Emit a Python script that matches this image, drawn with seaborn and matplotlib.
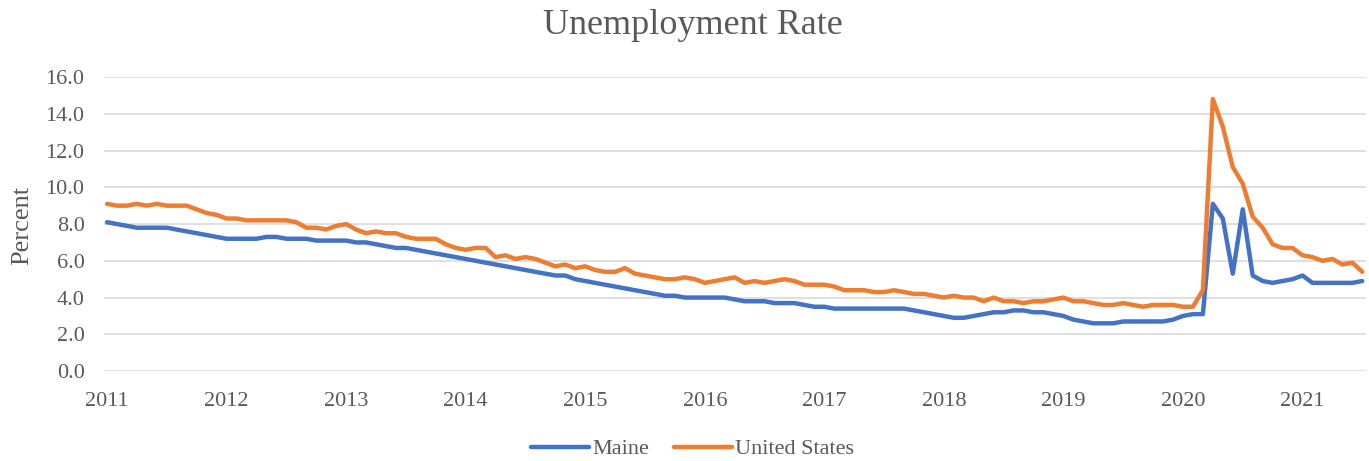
import matplotlib
matplotlib.use("Agg")
import matplotlib.pyplot as plt
import seaborn as sns
import numpy as np
import pandas as pd

# monthly rates, Jan 2011 .. Jul 2021
maine = [8.1, 8.0, 7.9, 7.8, 7.8, 7.8, 7.8, 7.7, 7.6, 7.5, 7.4, 7.3,
         7.2, 7.2, 7.2, 7.2, 7.3, 7.3, 7.2, 7.2, 7.2, 7.1, 7.1, 7.1,
         7.1, 7.0, 7.0, 6.9, 6.8, 6.7, 6.7, 6.6, 6.5, 6.4, 6.3, 6.2,
         6.1, 6.0, 5.9, 5.8, 5.7, 5.6, 5.5, 5.4, 5.3, 5.2, 5.2, 5.0,
         4.9, 4.8, 4.7, 4.6, 4.5, 4.4, 4.3, 4.2, 4.1, 4.1, 4.0, 4.0,
         4.0, 4.0, 4.0, 3.9, 3.8, 3.8, 3.8, 3.7, 3.7, 3.7, 3.6, 3.5,
         3.5, 3.4, 3.4, 3.4, 3.4, 3.4, 3.4, 3.4, 3.4, 3.3, 3.2, 3.1,
         3.0, 2.9, 2.9, 3.0, 3.1, 3.2, 3.2, 3.3, 3.3, 3.2, 3.2, 3.1,
         3.0, 2.8, 2.7, 2.6, 2.6, 2.6, 2.7, 2.7, 2.7, 2.7, 2.7, 2.8,
         3.0, 3.1, 3.1, 9.1, 8.3, 5.3, 8.8, 5.2, 4.9, 4.8, 4.9, 5.0,
         5.2, 4.8, 4.8, 4.8, 4.8, 4.8, 4.9]

us = [9.1, 9.0, 9.0, 9.1, 9.0, 9.1, 9.0, 9.0, 9.0, 8.8, 8.6, 8.5,
      8.3, 8.3, 8.2, 8.2, 8.2, 8.2, 8.2, 8.1, 7.8, 7.8, 7.7, 7.9,
      8.0, 7.7, 7.5, 7.6, 7.5, 7.5, 7.3, 7.2, 7.2, 7.2, 6.9, 6.7,
      6.6, 6.7, 6.7, 6.2, 6.3, 6.1, 6.2, 6.1, 5.9, 5.7, 5.8, 5.6,
      5.7, 5.5, 5.4, 5.4, 5.6, 5.3, 5.2, 5.1, 5.0, 5.0, 5.1, 5.0,
      4.8, 4.9, 5.0, 5.1, 4.8, 4.9, 4.8, 4.9, 5.0, 4.9, 4.7, 4.7,
      4.7, 4.6, 4.4, 4.4, 4.4, 4.3, 4.3, 4.4, 4.3, 4.2, 4.2, 4.1,
      4.0, 4.1, 4.0, 4.0, 3.8, 4.0, 3.8, 3.8, 3.7, 3.8, 3.8, 3.9,
      4.0, 3.8, 3.8, 3.7, 3.6, 3.6, 3.7, 3.6, 3.5, 3.6, 3.6, 3.6,
      3.5, 3.5, 4.4, 14.8, 13.3, 11.1, 10.2, 8.4, 7.8, 6.9, 6.7, 6.7,
      6.3, 6.2, 6.0, 6.1, 5.8, 5.9, 5.4]

years = [str(y) for y in range(2011, 2022)]
series_names = ["Maine", "United States"]

months = np.arange(len(maine))
df = pd.DataFrame({
    "month": np.concatenate([months, months]),
    "rate": maine + us,
    "series": [series_names[0]] * len(maine) + [series_names[1]] * len(us),
})

sns.set_style("white")
plt.rcParams['font.family'] = ['Liberation Serif', 'DejaVu Serif']

fig = plt.figure(figsize=(13.69, 4.61), dpi=100)
ax = fig.add_axes([0.076, 0.195, 0.922, 0.638])

sns.lineplot(data=df, x="month", y="rate", hue="series",
             palette=["#4472C4", "#ED7D31"], linewidth=3.2, ax=ax,
             legend=False)

ax.set_xlim(-0.3, 126.4)
ax.set_ylim(0, 16)
ax.set_yticks(np.arange(0, 17, 2))
ax.set_yticklabels([f"{v:.1f}" for v in np.arange(0, 17, 2)])
ax.set_xticks(np.arange(0, 121, 12))
ax.set_xticklabels(years)
ax.yaxis.grid(True, color="#D9D9D9", linewidth=1.2)
ax.set_axisbelow(True)
for s in ax.spines.values():
    s.set_visible(False)
ax.tick_params(axis="both", length=0, labelsize=16, colors="#595959")
ax.tick_params(axis="x", pad=15)
ax.tick_params(axis="y", pad=14)
ax.set_xlabel("")
ax.set_ylabel("")

fig.text(0.016, 0.51, "Percent", rotation=90, va="center", ha="center",
         fontsize=19, color="#595959")
fig.suptitle("Unemployment Rate", x=0.506, y=0.98, fontsize=26,
             color="#595959")

handles = [plt.Line2D([], [], color="#4472C4", lw=3.2, solid_capstyle="round"),
           plt.Line2D([], [], color="#ED7D31", lw=3.2, solid_capstyle="round")]
fig.legend(handles, series_names, loc="lower center", ncol=2,
           bbox_to_anchor=(0.506, -0.04), frameon=False, fontsize=16,
           handlelength=2.6, handletextpad=0.15, columnspacing=1.1,
           labelcolor="#595959")

fig.savefig("out.png", dpi=100)
